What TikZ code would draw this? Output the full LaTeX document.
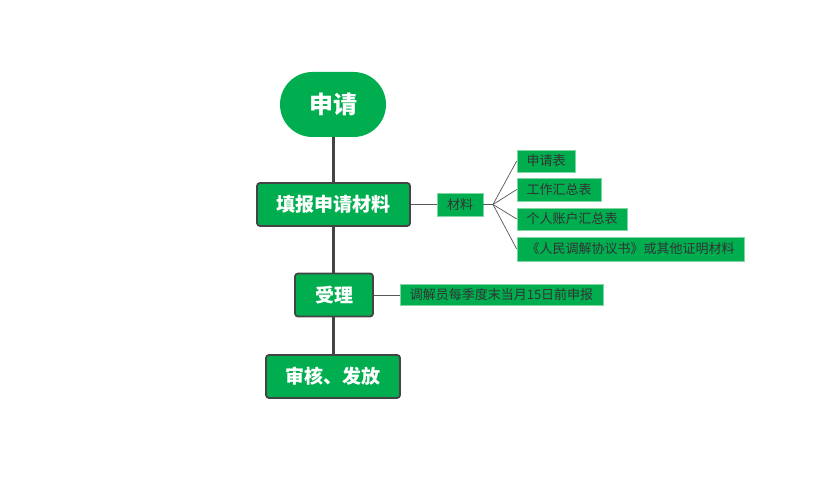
\documentclass[tikz,border=0pt]{standalone}
\usepackage{fontspec}
\setmainfont{Noto Sans CJK SC}
\usetikzlibrary{shapes.misc}
\definecolor{grn}{HTML}{00AE4F}
\definecolor{edge}{HTML}{444444}
\definecolor{lgrn}{HTML}{7FD6A2}
\definecolor{txt}{HTML}{333333}
\tikzset{
  mainbox/.style={fill=grn, draw=edge, line width=1.8pt, rounded corners=3pt, text=white, font=\bfseries\fontsize{19}{22}\selectfont, inner sep=0pt, anchor=center},
  tagbox/.style={fill=grn, draw=lgrn, line width=0.6pt, text=txt, font=\fontsize{13}{15}\selectfont, inner sep=0pt, minimum height=22pt, anchor=center},
  trunk/.style={draw=edge, line width=3pt},
  twig/.style={draw=edge!90, line width=0.7pt}
}
\begin{document}
\begin{tikzpicture}[x=1pt,y=-1pt]
\useasboundingbox (0,0) rectangle (825,494);
\fill[white] (0,0) rectangle (825,494);
% trunk
\coordinate (ttop) at (333,120);
\coordinate (tbot) at (333,370);
\draw[trunk] (ttop) -- (tbot);
% main nodes
\node[fill=grn, rounded rectangle, minimum width=106pt, minimum height=65pt, inner sep=0pt, text=white, font=\bfseries\fontsize{24}{28}\selectfont] (req) at (333,104.5) {申请};
\node[mainbox, minimum width=153pt, minimum height=43pt] (fill) at (333.5,204.5) {填报申请材料};
\node[mainbox, minimum width=78pt, minimum height=43pt] (acc) at (334,295) {受理};
\node[mainbox, minimum width=134pt, minimum height=43pt] (rev) at (333,376.5) {审核、发放};
% material
\node[tagbox, minimum width=46pt, minimum height=23pt] (mat) at (460,204.5) {材料};
\draw[twig] (fill.east) -- (mat.west);
\coordinate (br) at (493,204.5);
\draw[twig] (mat.east) -- (br);
\node[tagbox, minimum width=58pt] (m1) at (546,161) {申请表};
\node[tagbox, minimum width=84pt, minimum height=23pt] (m2) at (559,189.5) {工作汇总表};
\node[tagbox, minimum width=110pt] (m3) at (572,219) {个人账户汇总表};
\node[tagbox, minimum width=227pt, minimum height=24pt] (m4) at (630.5,249) {《人民调解协议书》或其他证明材料};
\foreach \n in {m1,m2,m3,m4} \draw[twig] (br) -- (\n.west);
% note
\node[tagbox, minimum width=203pt, minimum height=21pt] (note) at (501.5,295) {调解员每季度末当月15日前申报};
\draw[twig] (acc.east) -- (note.west);
\end{tikzpicture}
\end{document}
